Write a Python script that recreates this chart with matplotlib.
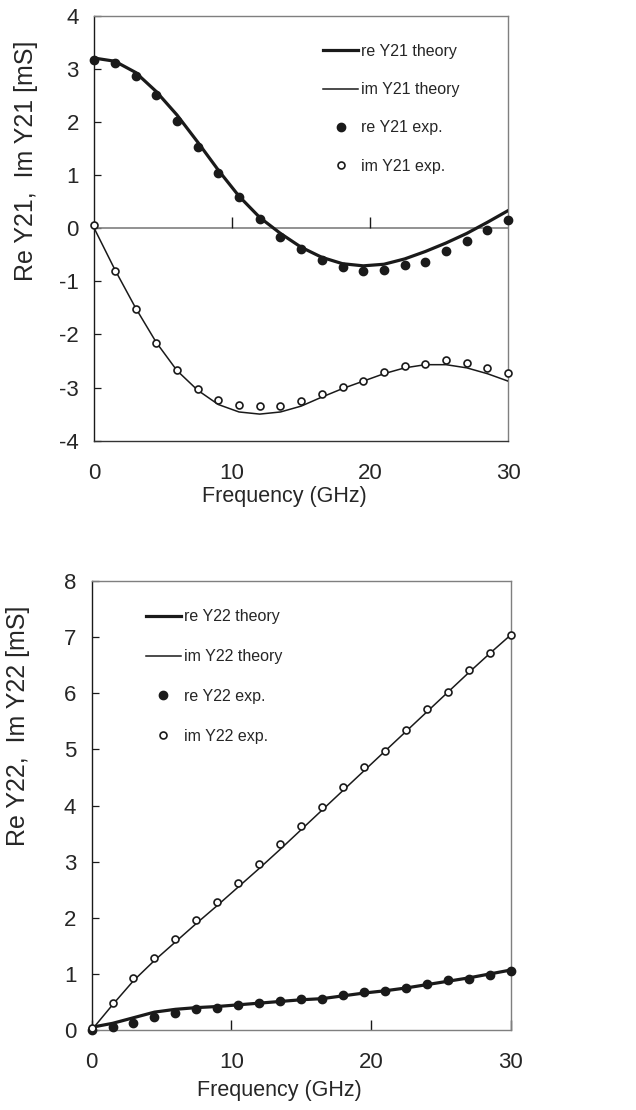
"""
Y21 / Y22 admittance vs frequency: theory lines and measured points.
"""

import matplotlib
matplotlib.use("Agg")
import matplotlib.pyplot as plt

plt.rcParams["font.family"] = ["Liberation Sans", "DejaVu Sans"]
plt.rcParams["axes.unicode_minus"] = False

# --------------------------------------------------
# DATA
# --------------------------------------------------

FREQ_GHZ = [0, 1.5, 3, 4.5, 6, 7.5, 9, 10.5, 12, 13.5, 15,
            16.5, 18, 19.5, 21, 22.5, 24, 25.5, 27, 28.5, 30]

RE_Y21_THEORY = [3.20, 3.14, 2.93, 2.57, 2.13, 1.62, 1.09, 0.60, 0.20, -0.10, -0.36,
                 -0.55, -0.67, -0.71, -0.68, -0.58, -0.44, -0.28, -0.10, 0.11, 0.33]
IM_Y21_THEORY = [0.00, -0.78, -1.50, -2.15, -2.68, -3.05, -3.32, -3.46, -3.50, -3.46, -3.35,
                 -3.18, -3.02, -2.88, -2.74, -2.63, -2.57, -2.57, -2.63, -2.74, -2.88]
RE_Y21_EXP = [3.16, 3.11, 2.87, 2.50, 2.02, 1.53, 1.03, 0.58, 0.18, -0.16, -0.40,
              -0.60, -0.73, -0.80, -0.78, -0.70, -0.63, -0.43, -0.25, -0.03, 0.15]
IM_Y21_EXP = [0.05, -0.80, -1.52, -2.17, -2.67, -3.02, -3.23, -3.33, -3.35, -3.34, -3.25,
              -3.13, -2.99, -2.88, -2.71, -2.59, -2.55, -2.49, -2.53, -2.63, -2.73]

RE_Y22_THEORY = [0.05, 0.12, 0.22, 0.32, 0.37, 0.40, 0.42, 0.45, 0.48, 0.51, 0.54,
                 0.56, 0.61, 0.66, 0.70, 0.75, 0.81, 0.87, 0.93, 1.00, 1.07]
IM_Y22_THEORY = [0.00, 0.45, 0.88, 1.24, 1.57, 1.90, 2.22, 2.55, 2.88, 3.22, 3.57,
                 3.92, 4.27, 4.62, 4.97, 5.32, 5.67, 6.02, 6.37, 6.71, 7.04]
RE_Y22_EXP = [0.00, 0.05, 0.13, 0.24, 0.31, 0.37, 0.40, 0.44, 0.48, 0.51, 0.55,
              0.56, 0.62, 0.68, 0.69, 0.75, 0.82, 0.89, 0.91, 0.99, 1.06]
IM_Y22_EXP = [0.03, 0.49, 0.93, 1.29, 1.63, 1.97, 2.29, 2.62, 2.96, 3.31, 3.63,
              3.98, 4.33, 4.68, 4.98, 5.34, 5.72, 6.03, 6.42, 6.71, 7.04]

XTICKS = [0, 10, 20, 30]
YTICKS_21 = [-4, -3, -2, -1, 0, 1, 2, 3, 4]
YTICKS_22 = [0, 1, 2, 3, 4, 5, 6, 7, 8]

INK = "#1a1a1a"
GREY = "#7f7f7f"
TEXT = "#262626"


def draw_panel(ax, re_th, im_th, re_ex, im_ex, name):
    ax.plot(FREQ_GHZ, re_th, color=INK, lw=2.3, label=f"re {name} theory", zorder=3)
    ax.plot(FREQ_GHZ, im_th, color=INK, lw=1.1, label=f"im {name} theory", zorder=3)
    ax.plot(FREQ_GHZ, re_ex, ls="none", marker="o", ms=6, mfc=INK, mec=INK,
            label=f"re {name} exp.", zorder=4, clip_on=False)
    ax.plot(FREQ_GHZ, im_ex, ls="none", marker="o", ms=5, mfc="white", mec=INK,
            mew=1.2, label=f"im {name} exp.", zorder=4, clip_on=False)

    ax.set_xlim(0, 30)
    ax.set_xticks(XTICKS)
    ax.tick_params(axis="both", labelsize=16, labelcolor=TEXT, direction="in")
    ax.tick_params(axis="y", length=5, width=0.9, color=INK, pad=11)

    ax.spines["top"].set_color(GREY)
    ax.spines["right"].set_color(GREY)
    ax.spines["left"].set_color(INK)
    for sp in ax.spines.values():
        sp.set_linewidth(1.0)


fig = plt.figure(figsize=(6.36, 11.1), dpi=100)

# --------------------------------------------------
# Top panel — Y21
# --------------------------------------------------
ax1 = fig.add_axes([0.148, 0.603, 0.651, 0.383])
draw_panel(ax1, RE_Y21_THEORY, IM_Y21_THEORY, RE_Y21_EXP, IM_Y21_EXP, "Y21")
ax1.set_ylim(-4, 4)
ax1.set_yticks(YTICKS_21)
ax1.spines["bottom"].set_color("#333333")
ax1.tick_params(axis="x", length=0, pad=16)
# horizontal axis crossing at zero, ticks pointing up
ax1.axhline(0, color=GREY, lw=1.2, zorder=2)
ax1.plot(XTICKS[1:-1], [0] * len(XTICKS[1:-1]), ls="none", marker=2, ms=8,
         mew=1.0, color=INK, zorder=2)

ax1.set_xlabel("Frequency (GHz)", fontsize=15.5, color=TEXT)
ax1.xaxis.label.set_va("center")
ax1.xaxis.set_label_coords(0.46, -0.132)
ax1.set_ylabel("Re Y21,  Im Y21 [mS]", fontsize=18, color=TEXT)
ax1.yaxis.label.set_va("center")
ax1.yaxis.set_label_coords(-0.165, 0.658)

ax1.legend(loc="upper left", bbox_to_anchor=(0.553, 0.933), frameon=False,
           fontsize=11.5, handlelength=2.2, handletextpad=0.2, labelspacing=1.45,
           borderpad=0, borderaxespad=0, labelcolor=TEXT)

# --------------------------------------------------
# Bottom panel — Y22
# --------------------------------------------------
ax2 = fig.add_axes([0.144, 0.072, 0.659, 0.4045])
draw_panel(ax2, RE_Y22_THEORY, IM_Y22_THEORY, RE_Y22_EXP, IM_Y22_EXP, "Y22")
ax2.set_ylim(0, 8)
ax2.set_yticks(YTICKS_22)
ax2.spines["bottom"].set_color(GREY)
ax2.tick_params(axis="x", length=7, width=1.0, color=INK, pad=16)

ax2.set_xlabel("Frequency (GHz)", fontsize=15.5, color=TEXT)
ax2.xaxis.label.set_va("center")
ax2.xaxis.set_label_coords(0.447, -0.134)
ax2.set_ylabel("Re Y22,  Im Y22 [mS]", fontsize=18, color=TEXT)
ax2.yaxis.label.set_va("center")
ax2.yaxis.set_label_coords(-0.176, 0.677)

ax2.legend(loc="upper left", bbox_to_anchor=(0.1295, 0.937), frameon=False,
           fontsize=11.5, handlelength=2.2, handletextpad=0.2, labelspacing=1.55,
           borderpad=0, borderaxespad=0, labelcolor=TEXT)

fig.savefig("out.png", dpi=100)
